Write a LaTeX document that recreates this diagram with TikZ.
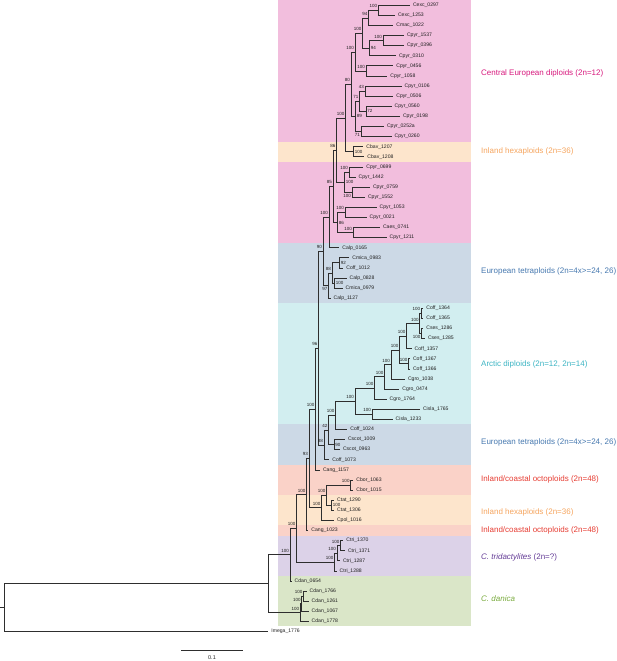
\documentclass[tikz,border=0pt]{standalone}
\usepackage{fontspec}
\setmainfont{Liberation Sans}
\usetikzlibrary{calc}
\definecolor{bPink}{RGB}{242,190,221}
\definecolor{bPeach}{RGB}{253,229,204}
\definecolor{bGrey}{RGB}{204,217,230}
\definecolor{bCyan}{RGB}{210,238,240}
\definecolor{bSalmon}{RGB}{250,210,200}
\definecolor{bPurple}{RGB}{220,210,232}
\definecolor{bGreen}{RGB}{218,230,200}
\definecolor{tMag}{RGB}{215,25,125}
\definecolor{tOrange}{RGB}{245,165,95}
\definecolor{tBlue}{RGB}{70,120,175}
\definecolor{tTeal}{RGB}{60,180,195}
\definecolor{tRed}{RGB}{230,60,50}
\definecolor{tPurple}{RGB}{100,60,150}
\definecolor{tGreen}{RGB}{120,170,60}
\newcommand\ky[1]{5.3+10.1*(#1)}
\begin{document}
\begin{tikzpicture}[x=1pt,y=-1pt,
  br/.style={draw=black!82,line width=0.8pt},
  leaf/.style={anchor=west,inner xsep=3pt,inner ysep=0pt,font=\fontsize{5.1}{6}\selectfont,text=black!88},
  bsf/.style={inner sep=0pt,font=\fontsize{4.5}{5}\selectfont,text=black!88},
  lab/.style={bsf,anchor=south east,xshift=-1pt,yshift=2.2pt},
  rab/.style={bsf,anchor=west,xshift=1.2pt},
  lbe/.style={bsf,anchor=north east,xshift=-1pt,yshift=-2pt},
  grp/.style={anchor=west,inner sep=0pt,font=\fontsize{8}{9}\selectfont}]
\useasboundingbox (0,0) rectangle (617,661);
% background bands
\fill[bPink]   (278,0) rectangle (470.5,{\ky{13.5}});
\fill[bPeach]  (278,{\ky{13.5}}) rectangle (470.5,{\ky{15.5}});
\fill[bPink]   (278,{\ky{15.5}}) rectangle (470.5,{\ky{23.5}});
\fill[bGrey]   (278,{\ky{23.5}}) rectangle (470.5,{\ky{29.5}});
\fill[bCyan]   (278,{\ky{29.5}}) rectangle (470.5,{\ky{41.5}});
\fill[bGrey]   (278,{\ky{41.5}}) rectangle (470.5,{\ky{45.5}});
\fill[bSalmon] (278,{\ky{45.5}}) rectangle (470.5,{\ky{48.5}});
\fill[bPeach]  (278,{\ky{48.5}}) rectangle (470.5,{\ky{51.5}});
\fill[bSalmon] (278,{\ky{51.5}}) rectangle (470.5,{\ky{52.5}});
\fill[bPurple] (278,{\ky{52.5}}) rectangle (470.5,{\ky{56.5}});
\fill[bGreen]  (278,{\ky{56.5}}) rectangle (470.5,{\ky{61.5}});
% leaves
\foreach \i/\x/\t in {0/409.8/Cexc\_0297,1/394.8/Cexc\_1253,2/393.2/Cmac\_1022,3/403.8/Cpyr\_1537,
 4/403.8/Cpyr\_0396,5/395.8/Cpyr\_0310,6/393.2/Cpyr\_0456,7/387.2/Cpyr\_1058,8/401.5/Cpyr\_0106,
 9/393.2/Cpyr\_0506,10/391.5/Cpyr\_0560,11/399.8/Cpyr\_0198,12/383.8/Cpyr\_0252a,13/391.5/Cpyr\_0260,
 14/363.2/Cbav\_1207,15/364.2/Cbav\_1208,16/363.2/Cpyr\_0699,17/355.5/Cpyr\_1442,18/369.8/Cpyr\_0759,
 19/364.8/Cpyr\_1552,20/376.5/Cpyr\_1053,21/366.5/Cpyr\_0021,22/379.8/Caes\_0741,23/386.5/Cpyr\_1211,
 24/339.2/Calp\_0165,25/349.2/Cmica\_0983,26/343.2/Coff\_1012,27/346.5/Calp\_0828,28/342.5/Cmica\_0979,
 29/330.5/Calp\_1127,30/423.2/Coff\_1364,31/423.2/Coff\_1365,32/423.2/Cses\_1286,33/424.8/Cses\_1285,
 34/411.5/Coff\_1357,35/409.8/Coff\_1367,36/409.8/Coff\_1366,37/404.8/Cgro\_1038,38/399.2/Cgro\_0474,
 39/386.5/Cgro\_1764,40/419.8/Cisla\_1765,41/392.5/Cisla\_1233,42/347.2/Coff\_1024,43/344.8/Cscot\_1009,
 44/339.8/Cscot\_0963,45/329.2/Coff\_1073,46/319.8/Cang\_1157,47/353.2/Cbor\_1063,48/353.2/Cbor\_1015,
 49/334/Ctat\_1290,50/334/Ctat\_1306,51/333.8/Cpol\_1016,52/308.2/Cang\_1023,53/343.2/Ctri\_1370,
 54/344.8/Ctri\_1371,55/339.8/Ctri\_1287,56/336.5/Ctri\_1288,57/291.5/Cdan\_0654,58/306.5/Cdan\_1766,
 59/308.5/Cdan\_1261,60/308.5/Cdan\_1067,61/308.5/Cdan\_1778,62/268.2/Imega\_1776}
 {\coordinate (t\i) at (\x,{\ky{\i}}); \node[leaf] (l\i) at (t\i) {\t};}
% internal nodes
\foreach \n/\x/\k in {N1/378.3/0.5,N2/368.5/1.25,N3/383/3.5,N4/369.5/4.25,N5/362.5/2.75,N6/366/6.5,
 N7/355/4.625,M1/365/8.5,M2/366/10.5,M3/359.5/9.5,M4/361/12.5,M5/355.5/11,P1/351/7.8125,Q/353.5/14.5,
 P2/345.5/11.15625,R1/349/16.5,R2/352/18.5,R3/344.5/17.5,R4/345/20.5,R5/353/22.5,R6/337.5/21.5,
 S1/336.5/14.328,S2/333/17.914,S3/329/20.957,T1/339.5/25.5,T2/334.5/27.5,T3/332/26.5,T4/328.5/27.75,
 S4/323/24.3535,A1/421.3/30.5,A2/421.5/32.5,A3/419.8/31.5,A4/406.5/32.75,AP/408.5/35.5,A5/399.5/34.125,
 A6/391/35.5625,A7/384.5/36.78125,A8/374.5/37.890625,A9/372/40.5,A10/355/39.1953,B1/335.5/40.5977,
 B2/334/43.5,B3/328.5/42.0488,B4/324/43.5244,S5/318.5/33.939,BB/315.5/39.9695,V1/350.7/47.5,
 V2/331.5/49.5,V3/326.5/48.5,V4/321.5/49.75,Gg/309/44.86,Ff/306.5/48.43,E1/340.5/53.5,E2/337/54.25,
 E3/334.5/55.125,Cc/296.5/51.7775,Bb/290/54.389,D1/303.5/58.5,D2/301.8/59.25,D3/300.3/60.125,
 Aa/268.3/57.257,Rt/4.7/59.628}
 {\coordinate (\n) at (\x,{\ky{\k}});}
\coordinate (stub) at (0,{\ky{59.628}});
% branches
\foreach \p/\c in {N1/t0,N1/t1,N2/N1,N2/t2,N3/t3,N3/t4,N4/N3,N4/t5,N5/N2,N5/N4,N6/t6,N6/t7,N7/N5,N7/N6,
 M1/t8,M1/t9,M2/t10,M2/t11,M3/M1,M3/M2,M4/t12,M4/t13,M5/M3,M5/M4,P1/N7,P1/M5,Q/t14,Q/t15,P2/P1,P2/Q,
 R1/t16,R1/t17,R2/t18,R2/t19,R3/R1,R3/R2,R4/t20,R4/t21,R5/t22,R5/t23,R6/R4,R6/R5,
 S1/P2,S1/R3,S2/S1,S2/R6,S3/S2,S3/t24,T1/t25,T1/t26,T2/t27,T2/t28,T3/T1,T3/T2,T4/T3,T4/t29,S4/S3,S4/T4,
 A1/t30,A1/t31,A2/t32,A2/t33,A3/A1,A3/A2,A4/A3,A4/t34,AP/t35,AP/t36,A5/A4,A5/AP,A6/A5,A6/t37,A7/A6,
 A7/t38,A8/A7,A8/t39,A9/t40,A9/t41,A10/A8,A10/A9,B1/A10,B1/t42,B2/t43,B2/t44,B3/B1,B3/B2,B4/B3,B4/t45,
 S5/S4,S5/B4,BB/S5,BB/t46,V1/t47,V1/t48,V2/t49,V2/t50,V3/V1,V3/V2,V4/V3,V4/t51,Gg/BB,Gg/V4,Ff/Gg,Ff/t52,
 E1/t53,E1/t54,E2/E1,E2/t55,E3/E2,E3/t56,Cc/Ff,Cc/E3,Bb/Cc,Bb/t57,D1/t58,D1/t59,D2/D1,D2/t60,D3/D2,
 D3/t61,Aa/Bb,Aa/D3,Rt/Aa,Rt/t62}
 {\draw[br] (\p) |- (\c);}
\draw[br] (stub) -- (Rt);
% support values
\foreach \n/\v/\s in {N1/100/lab,N2/94/lab,N3/100/lab,N4/94/rab,N5/100/lab,N6/100/lab,N7/100/lab,
 M1/43/lab,M2/72/rab,M3/71/lab,M4/71/lbe,M5/89/rab,P1/80/lab,Q/100/rab,P2/100/lab,R1/100/lab,R2/100/lbe,
 R3/100/rab,R4/100/lab,R5/100/lab,R6/86/rab,S1/86/lab,S2/85/lab,S3/100/lab,S4/90/lab,T1/92/rab,T2/100/rab,
 T3/88/lab,T4/97/lbe,A1/100/lab,A2/100/lbe,A3/100/lab,A4/100/lab,AP/100/lab,A5/100/lab,A6/100/lab,
 A7/100/lab,A8/100/lab,A9/100/lab,A10/100/lab,B1/100/lab,B2/90/rab,B3/42/lab,B4/88/lab,S5/96/lab,
 BB/100/lab,V1/100/lab,V2/100/rab,V3/100/lab,V4/100/lab,Gg/93/lab,Ff/100/lab,E1/100/lab,E2/100/lab,
 E3/100/lab,Cc/100/lab,Bb/100/lab,D1/100/lab,D2/100/lab,D3/100/lab}
 {\node[\s] (b\n) at (\n) {\v};}
% group labels
\node[grp,text=tMag]    (g1)  at (481,73)    {Central European diploids (2n=12)};
\node[grp,text=tOrange] (g2)  at (481,151.7) {Inland hexaploids (2n=36)};
\node[grp,text=tBlue]   (g3)  at (481,271)   {European tetraploids (2n=4x>=24, 26)};
\node[grp,text=tTeal]   (g4)  at (481,364)   {Arctic diploids (2n=12, 2n=14)};
\node[grp,text=tBlue]   (g5)  at (481,442)   {European tetraploids (2n=4x>=24, 26)};
\node[grp,text=tRed]    (g6)  at (481,479.5) {Inland/coastal octoploids (2n=48)};
\node[grp,text=tOrange] (g7)  at (481,512.5) {Inland hexaploids (2n=36)};
\node[grp,text=tRed]    (g8)  at (481,530.5) {Inland/coastal octoploids (2n=48)};
\node[grp,text=tPurple] (g9)  at (481,557)   {\itshape C. tridactylites\upshape{} (2n=?)};
\node[grp,text=tGreen]  (g10) at (481,599)   {\itshape C. danica};
% scale bar
\coordinate (sb1) at (181,650);
\coordinate (sb2) at (243,650);
\draw[br] (sb1) -- (sb2);
\node[inner sep=0pt,font=\fontsize{5.5}{6}\selectfont,text=black!85] (sbl) at (212,657.5) {0.1};
\end{tikzpicture}
\end{document}
